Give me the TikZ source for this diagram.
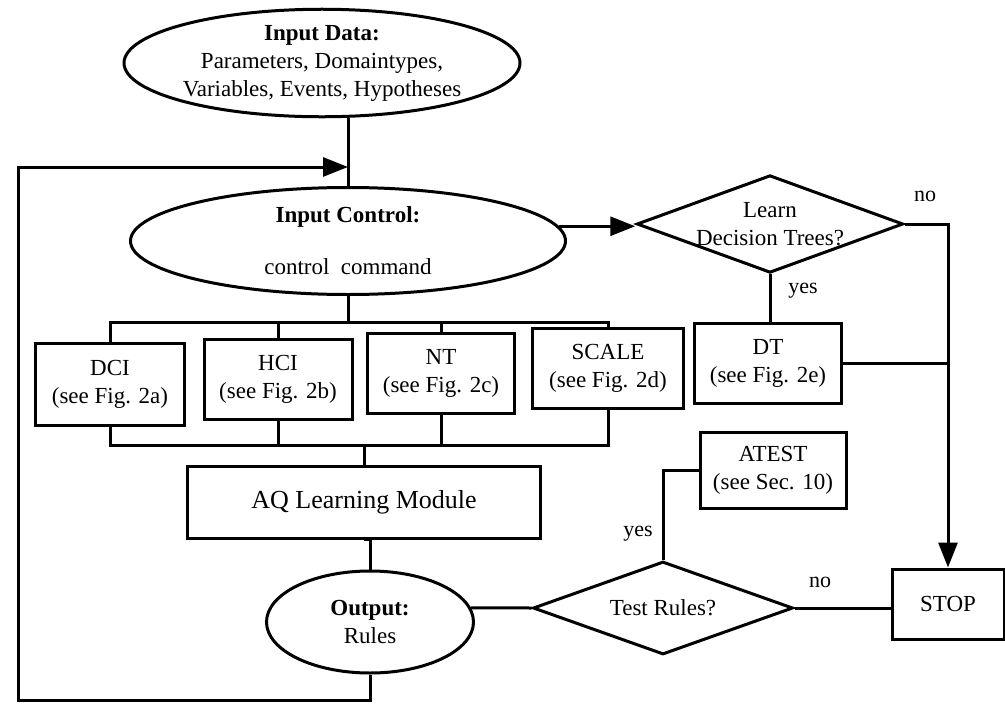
\documentclass[tikz,border=0pt]{standalone}
\usepackage{fontspec}
\setmainfont{Liberation Serif}
\usetikzlibrary{shapes.geometric,arrows.meta}
\begin{document}
\begin{tikzpicture}[x=1pt,y=-1pt,line width=3pt,
  txt/.style={font=\fontsize{23}{28}\selectfont},
  box/.style={draw,rectangle,inner sep=0pt,align=center,txt},
  ell/.style={draw,ellipse,inner sep=0pt,align=center,txt},
  dia/.style={draw,diamond,inner sep=0pt,align=center,txt},
  lbl/.style={font=\fontsize{22}{26}\selectfont,inner sep=1pt},
  arr/.style={-{Triangle[length=25pt,width=19pt]}}]
\useasboundingbox (0,0) rectangle (1005,710);

% nodes
\node[ell,minimum width=396pt,minimum height=107pt] (data) at (322,63)
  {\textbf{Input Data:}\\Parameters, Domaintypes,\\Variables, Events, Hypotheses};
\node[ell,minimum width=435pt,minimum height=107pt] (ctrl) at (348,241)
  {\textbf{Input Control:}\\[24pt]control\ \ command};
\node[dia,aspect=2.73,minimum width=254pt,minimum height=93pt] (learn) at (770,224)
  {Learn\\Decision Trees?};
\node[box,minimum width=147pt,minimum height=80pt] (dt) at (768,363)
  {DT\\(see Fig. 2e)};
\node[box,minimum width=149pt,minimum height=82pt] (dci) at (110,384)
  {DCI\\(see Fig. 2a)};
\node[box,minimum width=148pt,minimum height=80pt] (hci) at (278,379)
  {HCI\\(see Fig. 2b)};
\node[box,minimum width=147pt,minimum height=80pt] (nt) at (441,373)
  {NT\\(see Fig. 2c)};
\node[box,minimum width=151pt,minimum height=80pt] (scale) at (608,368)
  {SCALE\\(see Fig. 2d)};
\node[box,minimum width=353pt,minimum height=72pt,font=\fontsize{26}{30}\selectfont] (aq) at (364,502)
  {AQ Learning Module};
\node[ell,minimum width=207pt,minimum height=102pt] (out) at (370,622)
  {\textbf{Output:}\\Rules};
\node[dia,aspect=2.8,minimum width=260pt,minimum height=93pt] (test) at (663,608)
  {Test Rules?};
\node[box,minimum width=146pt,minimum height=76pt] (atest) at (773,470)
  {ATEST\\(see Sec. 10)};
\node[box,minimum width=112pt,minimum height=70pt] (stop) at (948,604)
  {STOP};

% labels
\node[lbl] (yes1) at (803,291) {yes};
\node[lbl] (no1) at (925,196) {no};
\node[lbl] (yes2) at (638,534) {yes};
\node[lbl] (no2) at (820,582) {no};

% helper coordinates
\coordinate (tbus) at (353,322);
\coordinate (bbus) at (362,445);
\coordinate (tl) at (18,167);
\coordinate (bl) at (18,700);

% connectors
\draw (ctrl.north |- data.south) -- (ctrl.north);
\draw[arr] (out.south) |- (bl) -- (tl) -- (tl -| ctrl.north);
\draw[arr] (ctrl.4.7) -- (ctrl.4.7 -| learn.west);
\draw (learn.south) -- (learn.south |- dt.north);
\draw[arr] (learn.east) -- (learn.east -| stop.north) -- (stop.north);
\draw (dt.east) -- (dt.east -| stop.north);

\draw (ctrl.south) -- (ctrl.south |- tbus);
\draw (dci.north) -- (dci.north |- tbus) -- (scale.north |- tbus) -- (scale.north);
\draw (hci.north) -- (hci.north |- tbus);
\draw (nt.north) -- (nt.north |- tbus);

\draw (dci.south) -- (dci.south |- bbus) -- (scale.south |- bbus) -- (scale.south);
\draw (hci.south) -- (hci.south |- bbus);
\draw (nt.south) -- (nt.south |- bbus);
\draw (aq.north |- bbus) -- (aq.north);

\draw (aq.south) -- (aq.south -| out.north) -- (out.north);
\draw (out.8) -- (test.west);
\draw (test.north) |- (atest.west);
\draw (test.east) -- (test.east -| stop.west);
\end{tikzpicture}
\end{document}
